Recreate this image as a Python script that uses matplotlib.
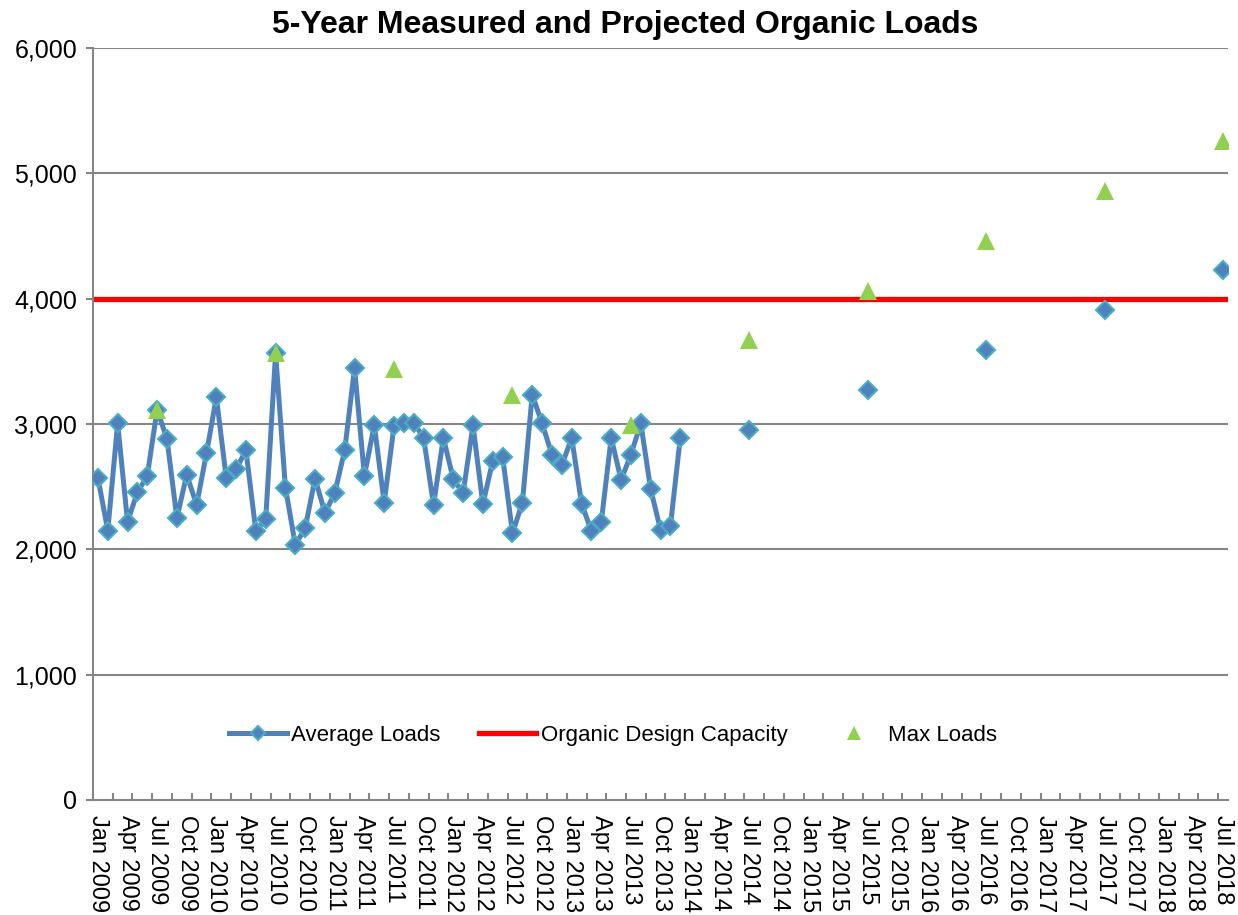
import matplotlib
matplotlib.use("Agg")
import matplotlib.pyplot as plt
import numpy as np
import pandas as pd

plt.rcParams['font.family'] = ['Liberation Sans', 'DejaVu Sans']

# ---- data ----
measured_start = "2009-01"
measured_avg = [2570, 2150, 3005, 2220, 2455, 2585, 3115, 2880, 2250, 2595,
                2355, 2765, 3215, 2570, 2640, 2790, 2145, 2240, 3565, 2490,
                2035, 2170, 2565, 2290, 2450, 2790, 3445, 2585, 2995, 2370,
                2985, 3005, 3010, 2890, 2355, 2890, 2560, 2450, 2990, 2360,
                2705, 2740, 2130, 2370, 3235, 3005, 2755, 2670, 2890, 2365,
                2145, 2220, 2890, 2555, 2755, 3005, 2480, 2155, 2185, 2890]
projected_dates = ["2014-07", "2015-07", "2016-07", "2017-07", "2018-07"]
projected_avg = [2952, 3271, 3590, 3910, 4229]
max_dates = ["2009-07", "2010-07", "2011-07", "2012-07", "2013-07",
             "2014-07", "2015-07", "2016-07", "2017-07", "2018-07"]
max_loads = [3110, 3565, 3440, 3230, 2995, 3670, 4060, 4460, 4860, 5258]
design_capacity = 4000
axis_start = "2009-01"
axis_end = "2018-07"

# ---- helpers ----
def month_index(d):
    p = pd.Period(d, freq="M")
    return (p - pd.Period(axis_start, freq="M")).n

n_total = month_index(axis_end) + 1
avg_series = np.full(n_total, np.nan)
start_i = month_index(measured_start)
avg_series[start_i:start_i + len(measured_avg)] = measured_avg
for d, v in zip(projected_dates, projected_avg):
    avg_series[month_index(d)] = v
x_all = np.arange(n_total)
max_x = [month_index(d) for d in max_dates]

label_dates = pd.period_range(axis_start, axis_end, freq="3M")
label_pos = [month_index(str(p)) for p in label_dates]
label_txt = [p.strftime("%b %Y") for p in label_dates]

# ---- figure ----
fig = plt.figure(figsize=(12.38, 9.15), dpi=100)
ax = fig.add_axes([0.0751, 0.1257, 0.9169, 0.8218])

grid_c = "#868686"
ax.set_ylim(0, 6000)
ax.set_xlim(-0.5, n_total - 0.5)
ax.set_yticks(np.arange(0, 6001, 1000))
ax.yaxis.set_major_formatter(matplotlib.ticker.FuncFormatter(lambda v, p: f"{int(v):,}"))
for y in np.arange(1000, 6001, 1000):
    ax.axhline(y, color=grid_c, lw=1.5, zorder=0)

ax.plot([-0.5, n_total - 0.5], [design_capacity, design_capacity], color="#FF0000",
        lw=3.8, zorder=2, label="Organic Design Capacity")
ax.plot(x_all, avg_series, color="#4F81BD", lw=3.6, marker="D", markersize=9.5,
        markerfacecolor="#4F81BD", markeredgecolor="#4BACC6", markeredgewidth=1.5,
        zorder=3, label="Average Loads")
ax.plot(max_x, max_loads, linestyle="none", marker="^", markersize=13,
        color="#92D050", markeredgewidth=0, zorder=4, label="Max Loads")

for s in ["top", "right"]:
    ax.spines[s].set_visible(False)
for s in ["left", "bottom"]:
    ax.spines[s].set_color(grid_c)
    ax.spines[s].set_linewidth(1.5)

# x ticks: marks every 2 months (between categories), labels every 3 months
ax.set_xticks(np.arange(-0.5, n_total, 2), minor=True)
ax.set_xticks(label_pos)
ax.set_xticklabels(label_txt, rotation=270, fontsize=17, va="top", ha="center")
ax.tick_params(axis="x", which="major", length=0, pad=11)
ax.tick_params(axis="x", which="minor", direction="in", length=5, color=grid_c, width=1.5)
ax.tick_params(axis="y", direction="out", length=5, color=grid_c, width=1.5,
               labelsize=18, pad=6.5)

handles, labels = ax.get_legend_handles_labels()
order = [1, 0, 2]
ax.legend([handles[i] for i in order], [labels[i] for i in order],
          loc="center", bbox_to_anchor=(0.458, 0.086), ncol=3, frameon=False,
          fontsize=16, handlelength=2.6, handletextpad=0.2, columnspacing=1.7,
          markerscale=0.8)

fig.suptitle("5-Year Measured and Projected Organic Loads", x=0.505, y=0.9727,
             va="center", fontsize=23, fontweight="bold")

fig.savefig("out.png", dpi=100)
